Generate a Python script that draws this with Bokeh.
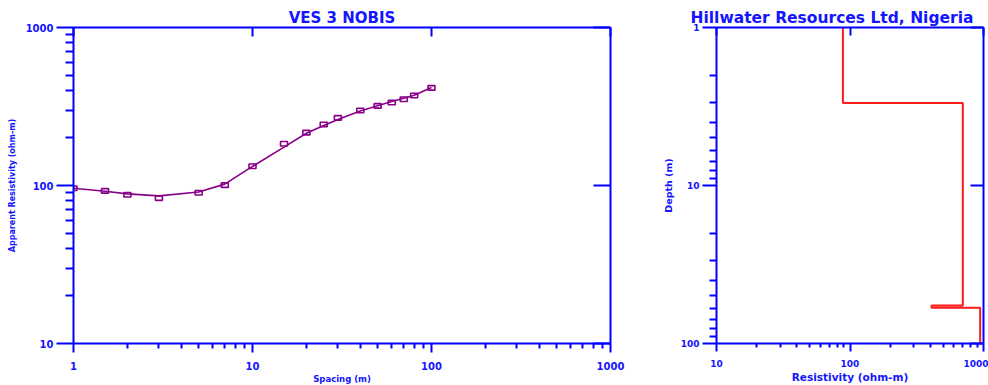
from bokeh.plotting import figure
from bokeh.layouts import row
from bokeh.models import (Range1d, FixedTicker, NumeralTickFormatter, LogAxis, ColumnDataSource)
from bokeh.embed import file_html
from bokeh.resources import INLINE

# ---- data: VES 3 field measurements ----
spacing = [1, 1.5, 2, 3, 5, 7, 10, 15, 20, 25, 30, 40, 50, 60, 70, 80, 100]
app_res = [96, 92.4, 87.3, 83.2, 90, 100.5, 132.5, 183.6, 216, 243, 268, 298.6, 319, 335, 351.7, 371.6, 415]
# model (computed) curve
model_res = [96, 92, 88.5, 86, 91, 102, 132, 175, 214, 240, 262, 296, 320, 340, 357, 373, 417]

# ---- layered model ----
layer_res = [88.5, 700, 408, 944]
layer_top = [1, 3.0, 57.5, 59.5]
layer_bot = [3.0, 57.5, 59.5, 100]

x_ticks = [1, 10, 100, 1000]
x_minor = [m * d for d in [1, 10, 100] for m in range(2, 10)]
y_ticks = [10, 100, 1000]
y_minor = [m * d for d in [10, 100] for m in range(2, 10)]
r_x_ticks = [10, 100, 1000]
r_x_minor = [m * d for d in [10, 100] for m in range(2, 10)]
r_y_ticks = [1, 10, 100]
r_y_minor = [m * d for d in [1, 10] for m in range(2, 10)]

BLUE = "#0000ff"
TXT = "#1414ff"
PURPLE = "#870087"
RED = "#ff1a1a"
FONT = "DejaVu Sans"


def style_axis(ax, size, tick_out, minor_out, standoff):
    ax.axis_line_color = BLUE
    ax.axis_line_width = 2
    ax.major_tick_line_color = BLUE
    ax.major_tick_line_width = 2
    ax.minor_tick_line_color = BLUE
    ax.minor_tick_line_width = 2
    ax.major_tick_in = 0
    ax.minor_tick_in = 0
    ax.major_tick_out = tick_out
    ax.minor_tick_out = minor_out
    ax.major_label_text_color = TXT
    ax.major_label_text_font = FONT
    ax.major_label_text_font_style = "bold"
    ax.major_label_text_font_size = size
    ax.major_label_standoff = standoff
    ax.axis_label_text_color = TXT
    ax.axis_label_text_font = FONT
    ax.axis_label_text_font_style = "bold"
    ax.formatter = NumeralTickFormatter(format="0")


def frame_axis(ticks, tick_in):
    ax = LogAxis(ticker=FixedTicker(ticks=ticks, minor_ticks=[]))
    ax.axis_line_color = BLUE
    ax.axis_line_width = 2
    ax.major_tick_line_color = BLUE
    ax.major_tick_line_width = 2
    ax.major_tick_in = tick_in
    ax.major_tick_out = 0
    ax.minor_tick_in = 0
    ax.minor_tick_out = 0
    ax.major_label_text_font_size = "1px"
    ax.major_label_text_color = None
    ax.major_label_standoff = 0
    return ax


# ---------------- left: sounding curve ----------------
p1 = figure(frame_width=537, frame_height=316, x_axis_type="log", y_axis_type="log",
            x_range=Range1d(1, 1000), y_range=Range1d(10, 1000),
            output_backend="svg", toolbar_location=None,
            min_border_left=73, min_border_right=30, min_border_top=27, min_border_bottom=42,
            title="VES 3 NOBIS")
p1.title.text_color = TXT
p1.title.text_font = FONT
p1.title.text_font_style = "bold"
p1.title.text_font_size = "15px"
p1.title.align = "center"
p1.title.standoff = 1
p1.grid.visible = False
p1.outline_line_color = None

p1.xaxis.ticker = FixedTicker(ticks=x_ticks, minor_ticks=x_minor)
p1.yaxis.ticker = FixedTicker(ticks=y_ticks, minor_ticks=y_minor)
style_axis(p1.xaxis[0], "10px", 9, 5, 9)
style_axis(p1.yaxis[0], "10px", 17, 8, 3)
p1.xaxis.axis_label = "Spacing (m)"
p1.xaxis.axis_label_text_font_size = "8.5px"
p1.xaxis.axis_label_standoff = 1
p1.yaxis.axis_label = "Apparent Resistivity (ohm-m)"
p1.yaxis.axis_label_text_font_size = "8px"
p1.yaxis.axis_label_standoff = 6

p1.add_layout(frame_axis(x_ticks, 9), "above")
p1.add_layout(frame_axis(y_ticks, 17), "right")

src = ColumnDataSource(dict(s=spacing, r=app_res, m=model_res))
p1.line("s", "m", source=src, line_color=PURPLE, line_width=1.6)
p1.rect("s", "r", source=src, width=7, height=4.5, width_units="screen", height_units="screen",
        fill_color=None, line_color=PURPLE, line_width=1.6)

# ---------------- right: layered model ----------------
p2 = figure(frame_width=267, frame_height=316, x_axis_type="log", y_axis_type="log",
            x_range=Range1d(10, 1000), y_range=Range1d(100, 1),
            output_backend="svg", toolbar_location=None,
            min_border_left=76, min_border_right=5, min_border_top=27, min_border_bottom=42,
            title="Hillwater Resources Ltd, Nigeria")
p2.title.text_color = TXT
p2.title.text_font = FONT
p2.title.text_font_style = "bold"
p2.title.text_font_size = "15.5px"
p2.title.align = "left"
p2.title.offset = -26
p2.title.standoff = 1
p2.grid.visible = False
p2.outline_line_color = None

p2.xaxis.ticker = FixedTicker(ticks=r_x_ticks, minor_ticks=r_x_minor)
p2.yaxis.ticker = FixedTicker(ticks=r_y_ticks, minor_ticks=r_y_minor)
style_axis(p2.xaxis[0], "9px", 8, 4, 8)
style_axis(p2.yaxis[0], "9px", 14, 7, 3)
p2.xaxis.axis_label = "Resistivity (ohm-m)"
p2.xaxis.axis_label_text_font_size = "10.5px"
p2.xaxis.axis_label_standoff = 1
p2.yaxis.axis_label = "Depth (m)"
p2.yaxis.axis_label_text_font_size = "9.5px"
p2.yaxis.axis_label_standoff = 4

p2.add_layout(frame_axis(r_x_ticks, 8), "above")
p2.add_layout(frame_axis(r_y_ticks, 13), "right")

# step profile built from layer arrays
step_x, step_y = [], []
for r, t, b in zip(layer_res, layer_top, layer_bot):
    step_x += [r, r]
    step_y += [t, b]
p2.line(step_x, step_y, line_color=RED, line_width=2)

layout = row(p1, p2)
open("out.html", "w").write(file_html(layout, INLINE))
